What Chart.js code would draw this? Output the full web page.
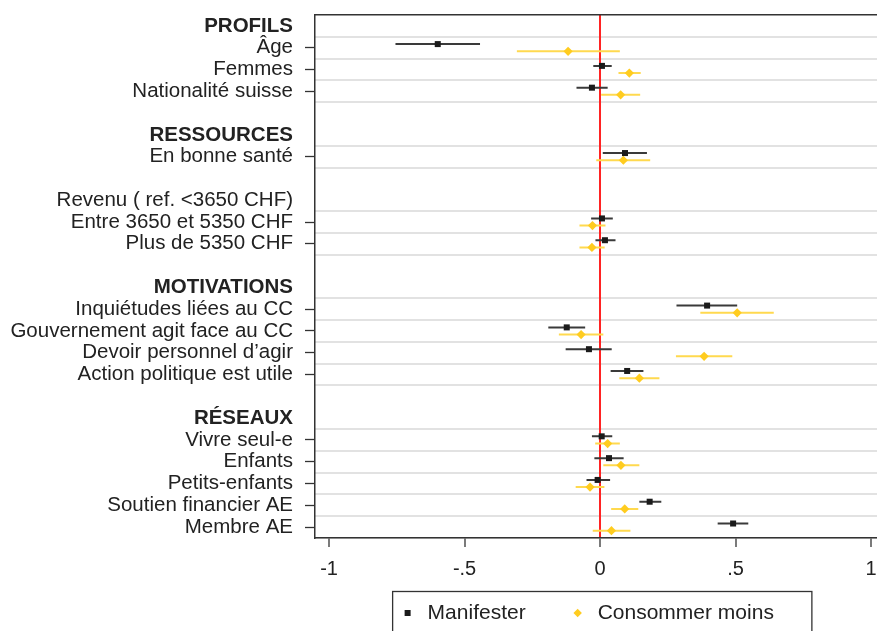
<!DOCTYPE html>
<html><head><meta charset="utf-8">
<script src="https://cdn.jsdelivr.net/npm/chart.js@4"></script>
<style>html,body{margin:0;padding:0;background:#fff}canvas{display:block}</style>
</head><body>
<canvas id="c" width="877" height="631"></canvas>
<script>
// Axis rows (top to bottom), including group headers and blank spacer rows
const rowLabels = ['PROFILS','Âge','Femmes','Nationalité suisse','',
  'RESSOURCES','En bonne santé','','Revenu ( ref. <3650 CHF)','Entre 3650 et 5350 CHF','Plus de 5350 CHF','',
  'MOTIVATIONS','Inquiétudes liées au CC','Gouvernement agit face au CC','Devoir personnel d’agir','Action politique est utile','',
  'RÉSEAUX','Vivre seul-e','Enfants','Petits-enfants','Soutien financier AE','Membre AE'];
const headerLabels = ['PROFILS','RESSOURCES','MOTIVATIONS','RÉSEAUX'];

// Estimated variables
const categories = ['Âge','Femmes','Nationalité suisse','En bonne santé','Entre 3650 et 5350 CHF','Plus de 5350 CHF',
  'Inquiétudes liées au CC','Gouvernement agit face au CC','Devoir personnel d’agir','Action politique est utile',
  'Vivre seul-e','Enfants','Petits-enfants','Soutien financier AE','Membre AE'];

const seriesNames = ['Manifester','Consommer moins'];

const manifesterCoef = [-0.599, 0.007,-0.030, 0.092, 0.007, 0.018, 0.395,-0.123,-0.041, 0.100, 0.006, 0.033,-0.009, 0.183, 0.491];
const manifesterLow  = [-0.755,-0.025,-0.087, 0.010,-0.033,-0.017, 0.282,-0.191,-0.127, 0.039,-0.030,-0.021,-0.050, 0.145, 0.434];
const manifesterHigh = [-0.443, 0.043, 0.028, 0.173, 0.047, 0.057, 0.506,-0.055, 0.043, 0.160, 0.045, 0.087, 0.037, 0.226, 0.547];

const consommerCoef  = [-0.118, 0.108, 0.076, 0.086,-0.028,-0.030, 0.506,-0.070, 0.384, 0.145, 0.028, 0.077,-0.037, 0.091, 0.042];
const consommerLow   = [-0.307, 0.068, 0.004,-0.014,-0.076,-0.076, 0.370,-0.152, 0.280, 0.071,-0.018, 0.012,-0.090, 0.041,-0.027];
const consommerHigh  = [ 0.073, 0.150, 0.148, 0.185, 0.020, 0.017, 0.641, 0.012, 0.488, 0.219, 0.073, 0.145, 0.016, 0.141, 0.112];

const xTickValues = [-1, -0.5, 0, 0.5, 1];
const xTickLabels = ['-1', '-.5', '0', '.5', '1'];

const FONT = "'Liberation Sans', Arial, Helvetica, sans-serif";
const OFFSET = 0.165;
const rowOf = c => rowLabels.indexOf(c);
const dataRows = categories.map(rowOf);
const boundaries = [...new Set(dataRows.flatMap(r => [r - 0.5, r + 0.5]))].sort((a, b) => a - b);

function points(coef, shift) {
  return categories.map((c, i) => ({x: coef[i], y: rowOf(c) + shift}));
}
function intervals(lo, hi, shift) {
  const d = [];
  categories.forEach((c, i) => {
    const y = rowOf(c) + shift;
    d.push({x: lo[i], y: y}, {x: hi[i], y: y}, {x: null, y: null});
  });
  return d;
}

// Legend placement tweak (moves the legend box up into the space beside the x tick labels)
const legendPlacement = {
  id: 'legendPlacement',
  afterLayout(chart) {
    const lg = chart.legend;
    if (!lg) return;
    lg.top -= 18; lg.bottom -= 18;
    lg.left -= 10; lg.right -= 10;
  }
};

const legendFrame = {
  id: 'legendFrame',
  afterDraw(chart) {
    const lg = chart.legend;
    if (!lg || !lg.legendHitBoxes || !lg.legendHitBoxes.length) return;
    const hb = lg.legendHitBoxes;
    const first = hb[0], last = hb[hb.length - 1];
    const ctx = chart.ctx;
    ctx.save();
    ctx.strokeStyle = '#333';
    ctx.lineWidth = 1.3;
    const l = first.left - 5.5, r = last.left + last.width + 38, t = first.top - 11;
    ctx.strokeRect(l, t, r - l, chart.height + 5 - t);
    ctx.restore();
  }
};

new Chart(document.getElementById('c'), {
  type: 'scatter',
  data: {
    datasets: [
      {label: seriesNames[0], data: points(manifesterCoef, -OFFSET), pointStyle: 'rect', pointRadius: 4.25,
       pointHoverRadius: 4.25, backgroundColor: '#1b1b1b', borderColor: '#1b1b1b', borderWidth: 0, order: 0},
      {label: seriesNames[1], data: points(consommerCoef, OFFSET), pointStyle: 'rectRot', pointRadius: 4.6,
       pointHoverRadius: 4.6, backgroundColor: '#ffcc1f', borderColor: '#ffcc1f', borderWidth: 0, order: 1},
      {label: 'ci-m', data: intervals(manifesterLow, manifesterHigh, -OFFSET), showLine: true, pointRadius: 0,
       borderColor: '#3a3a3a', borderWidth: 2, spanGaps: false, order: 2},
      {label: 'ci-c', data: intervals(consommerLow, consommerHigh, OFFSET), showLine: true, pointRadius: 0,
       borderColor: '#ffd94f', borderWidth: 2, spanGaps: false, order: 3}
    ]
  },
  options: {
    responsive: false,
    animation: false,
    events: [],
    layout: {autoPadding: false, padding: {top: 15, left: 0, right: 0, bottom: -20.5}},
    plugins: {
      tooltip: {enabled: false},
      legend: {
        position: 'bottom', fullSize: false, align: 'center',
        labels: {
          usePointStyle: true, boxWidth: 19, boxHeight: 6, padding: 42.5, color: '#222',
          font: {family: FONT, size: 21},
          filter: item => seriesNames.includes(item.text)
        }
      }
    },
    scales: {
      x: {
        type: 'linear', position: 'bottom', min: -1.052, max: 1.022,
        afterBuildTicks: s => { s.ticks = xTickValues.map(v => ({value: v})); },
        ticks: {
          callback: v => xTickLabels[xTickValues.indexOf(v)],
          font: {family: FONT, size: 20}, color: '#222', padding: 10, maxRotation: 0, autoSkip: false
        },
        grid: {
          color: ctx => (ctx.tick && ctx.tick.value === 0) ? '#ff2323' : 'rgba(0,0,0,0)',
          lineWidth: 2, tickColor: '#333', tickLength: 9, tickWidth: 1.3, z: -1
        },
        border: {color: '#333', width: 1.5},
        afterFit: s => { s.height = 40; s.paddingLeft = 0; s.paddingRight = 0; }
      },
      xTop: {
        type: 'linear', position: 'top', min: -1, max: 1,
        ticks: {display: false}, grid: {display: false, drawTicks: false},
        border: {color: '#333', width: 1.5},
        afterFit: s => { s.height = 0; s.paddingLeft = 0; s.paddingRight = 0; }
      },
      y: {
        type: 'linear', position: 'left', reverse: true, min: -0.5, max: rowLabels.length - 0.5,
        afterBuildTicks: s => { s.ticks = rowLabels.map((l, i) => ({value: i})).filter(t => rowLabels[t.value] !== ''); },
        ticks: {
          autoSkip: false, padding: 12, color: '#222',
          callback: v => rowLabels[v],
          font: ctx => ({family: FONT, size: 20.5,
            weight: (ctx.tick && headerLabels.includes(rowLabels[ctx.tick.value])) ? 'bold' : 'normal'})
        },
        grid: {
          drawOnChartArea: false, tickLength: 10, tickWidth: 1.3,
          tickColor: ctx => (ctx.tick && dataRows.includes(ctx.tick.value)) ? '#333' : 'rgba(0,0,0,0)'
        },
        border: {color: '#333', width: 1.5},
        afterFit: s => { s.width = 315; s.paddingTop = 0; s.paddingBottom = 0; }
      },
      yGrid: {
        type: 'linear', position: 'left', reverse: true, min: -0.5, max: rowLabels.length - 0.5,
        afterBuildTicks: s => { s.ticks = boundaries.map(v => ({value: v})); },
        ticks: {display: false},
        grid: {color: '#e2e2e2', lineWidth: 2, drawTicks: false, z: -2},
        border: {display: false},
        afterFit: s => { s.width = 0; s.paddingTop = 0; s.paddingBottom = 0; }
      }
    }
  },
  plugins: [legendPlacement, legendFrame]
});
</script>
</body></html>
